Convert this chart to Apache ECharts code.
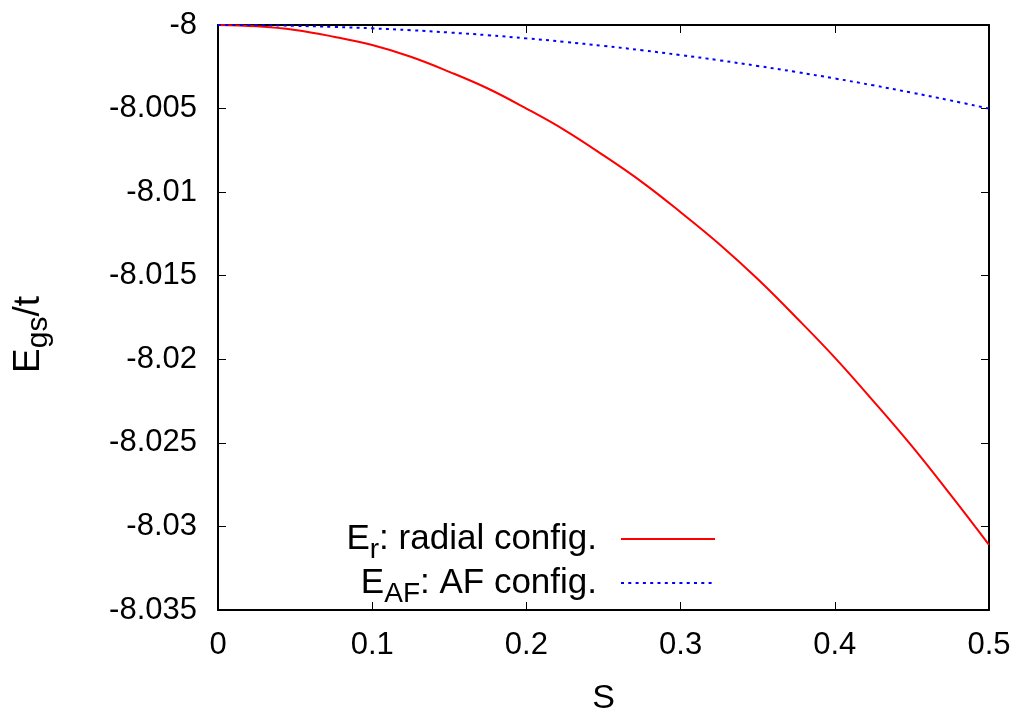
<!DOCTYPE html>
<html>
<head>
<meta charset="utf-8">
<script src="https://cdn.jsdelivr.net/npm/echarts@6/dist/echarts.min.js"></script>
<style>
html,body{margin:0;padding:0;background:#fff;}
#chart{width:1024px;height:721px;}
</style>
</head>
<body>
<div id="chart"></div>
<script>
// ---- data ----
const sValues = [0, 0.025, 0.05, 0.075, 0.1, 0.125, 0.15, 0.175, 0.2, 0.225, 0.25, 0.275, 0.3, 0.325, 0.35, 0.375, 0.4, 0.425, 0.45, 0.475, 0.5];
const radialE = [-8, -8.00008, -8.0003, -8.0007, -8.0012, -8.0019, -8.0028, -8.0038, -8.005, -8.0063, -8.0078, -8.0094, -8.0112, -8.0131, -8.0152, -8.0175, -8.0199, -8.0225, -8.0252, -8.0281, -8.0311];
const afE = [-8, -8.00001, -8.00005, -8.00011, -8.0002, -8.00031, -8.00045, -8.00061, -8.0008, -8.00101, -8.00125, -8.00151, -8.0018, -8.00211, -8.00245, -8.00281, -8.0032, -8.00361, -8.00405, -8.00451, -8.005];
const xTickLabels = ['0', '0.1', '0.2', '0.3', '0.4', '0.5'];
const yTickLabels = ['-8.035', '-8.03', '-8.025', '-8.02', '-8.015', '-8.01', '-8.005', '-8'];
const seriesNames = ['Er: radial config.', 'EAF: AF config.'];

// ---- chart ----
const FONT = '"Liberation Sans", Arial, Helvetica, sans-serif';
const chart = echarts.init(document.getElementById('chart'), null, {renderer: 'canvas'});

function pairs(xs, ys) { return xs.map((x, i) => [x, ys[i]]); }
function nearestLabel(list, v) {
  let best = list[0], d = Infinity;
  list.forEach(t => { const dd = Math.abs(parseFloat(t) - v); if (dd < d) { d = dd; best = t; } });
  return best;
}

const tickStyle = {show: true, inside: true, length: 8, lineStyle: {color: '#000', width: 1}};
const lineStyleAxis = {show: true, onZero: false, lineStyle: {color: '#000', width: 2}};
const labelStyle = {color: '#000', fontFamily: FONT, fontSize: 31};

const legendRich = {
  m: {fontFamily: FONT, fontSize: 35, lineHeight: 34, color: '#000', verticalAlign: 'top'},
  s: {fontFamily: FONT, fontSize: 28, lineHeight: 27, color: '#000', verticalAlign: 'top', padding: [14, 0, 0, 0]},
  e: {fontFamily: FONT, fontSize: 35, lineHeight: 34, color: '#000', verticalAlign: 'top', padding: [0, 19, 0, 0]}
};

chart.setOption({
  animation: false,
  backgroundColor: '#fff',
  grid: {left: 218, right: 35, top: 25, bottom: 109, containLabel: false},
  legend: {
    orient: 'vertical',
    align: 'right',
    right: 308,
    top: 522,
    itemWidth: 94,
    itemHeight: 14,
    itemGap: 2,
    padding: 0,
    itemStyle: {opacity: 0},
    data: seriesNames,
    textStyle: {rich: legendRich},
    formatter: function (name) {
      if (name === seriesNames[0]) return '{m|E}{s|r}{e|: radial config.}';
      return '{m|E}{s|AF}{e|: AF config.}';
    }
  },
  xAxis: [{
    type: 'value', min: 0, max: 0.5, interval: 0.1, position: 'bottom',
    axisLine: lineStyleAxis, axisTick: tickStyle, splitLine: {show: false},
    axisLabel: Object.assign({margin: 20, formatter: v => nearestLabel(xTickLabels, v)}, labelStyle),
    name: 'S', nameLocation: 'middle', nameGap: 72,
    nameTextStyle: {color: '#000', fontFamily: FONT, fontSize: 34}
  }, {
    type: 'value', min: 0, max: 0.5, interval: 0.1, position: 'top',
    axisLine: lineStyleAxis, axisTick: tickStyle, splitLine: {show: false},
    axisLabel: {show: false}
  }],
  yAxis: [{
    type: 'value', min: -8.035, max: -8, interval: 0.005, position: 'left',
    axisLine: lineStyleAxis, axisTick: tickStyle, splitLine: {show: false},
    axisLabel: Object.assign({margin: 21, formatter: v => nearestLabel(yTickLabels, v)}, labelStyle),
    name: '{m|E}{s|gs}{m|/t}', nameLocation: 'middle', nameGap: 171, nameRotate: 90,
    nameTextStyle: {
      padding: [0, 34, 0, 0],
      rich: {
        m: {fontFamily: FONT, fontSize: 37, lineHeight: 37, color: '#000', verticalAlign: 'top'},
        s: {fontFamily: FONT, fontSize: 30, lineHeight: 30, color: '#000', verticalAlign: 'top', padding: [14, 0, 0, 0]}
      }
    }
  }, {
    type: 'value', min: -8.035, max: -8, interval: 0.005, position: 'right',
    axisLine: lineStyleAxis, axisTick: tickStyle, splitLine: {show: false},
    axisLabel: {show: false}
  }],
  series: [{
    name: seriesNames[0], type: 'line', data: pairs(sValues, radialE),
    smooth: 0.4, symbol: 'none', showSymbol: false,
    lineStyle: {color: '#ff0000', width: 2}, itemStyle: {color: '#ff0000'}
  }, {
    name: seriesNames[1], type: 'line', data: pairs(sValues, afE),
    smooth: 0.4, symbol: 'none', showSymbol: false,
    lineStyle: {color: '#0000ff', width: 2, type: [3, 4.3]}, itemStyle: {color: '#0000ff'}
  }]
});
</script>
</body>
</html>
